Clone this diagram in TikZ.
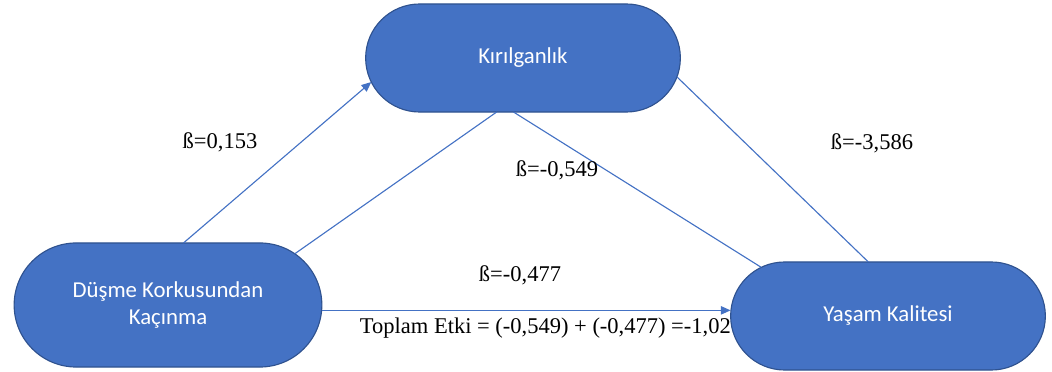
\documentclass[tikz,border=0pt]{standalone}
\usepackage{fontspec}
\setmainfont{Liberation Serif}
\newfontfamily\calibri{Carlito}
\usetikzlibrary{shapes.misc,arrows.meta}
\definecolor{boxblue}{HTML}{4472C4}
\definecolor{boxedge}{HTML}{2F528F}
\begin{document}
\begin{tikzpicture}[x=0.025cm,y=-0.025cm,
    every node/.style={font=\fontsize{16}{18}\selectfont},
    box/.style={rounded rectangle, fill=boxblue, draw=boxedge, line width=0.8pt,
      text=white, align=center, outer sep=0pt,
      font=\calibri\fontsize{16.2}{19}\selectfont},
    link/.style={draw=boxblue, line width=0.8pt},
    >={Triangle[length=7pt,width=6pt]}]
  \useasboundingbox (0,0) rectangle (1052,372);

  \node[box, minimum width=8.1cm, minimum height=2.7cm] (K) at (523,58) {Kırılganlık};
  \node[box, minimum width=7.925cm, minimum height=3.1cm] (D) at (168,305) {Düşme Korkusundan\\Kaçınma};
  \node[anchor=west] (T) at (355,328) {Toplam Etki = (-0,549) + (-0,477) =-1,026};
  \node[box, minimum width=8.1cm, minimum height=2.7cm] (Y) at (888,316) {Yaşam Kalitesi};

  \draw[link,->] (D.76) -- (K.189);
  \draw[link] (D.22) -- (K.-116);
  \draw[link] (K.-100) -- (Y.159);
  \draw[link] (K.-7) -- (Y.110);
  \draw[link,->] (D.-2) -- (D.-2 -| Y.west);

  \node (b1) at (220,142) {ß=0,153};
  \node (b2) at (557,170) {ß=-0,549};
  \node (b3) at (872,143) {ß=-3,586};
  \node (b4) at (520,275) {ß=-0,477};
\end{tikzpicture}
\end{document}
